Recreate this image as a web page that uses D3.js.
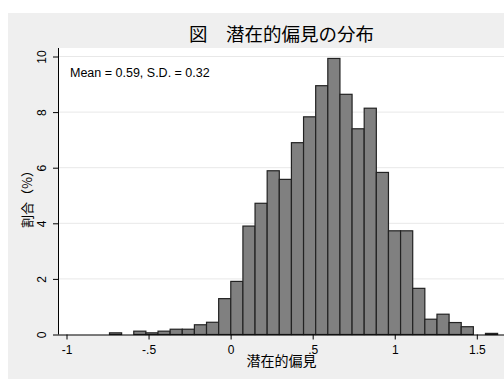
<!DOCTYPE html>
<html>
<head>
<meta charset="utf-8">
<script src="https://cdn.jsdelivr.net/npm/d3@7"></script>
<style>
  body { margin: 0; background: #fff; }
  svg { display: block; }
</style>
</head>
<body>
<svg id="chart"></svg>
<script>
// histogram data (percent per bin)
const binStart = -0.738;
const binWidth = 0.0739;
const pct = [0.06, 0, 0.12, 0.06, 0.12, 0.19, 0.19, 0.35, 0.44, 1.29,
  1.91, 3.90, 4.72, 5.89, 5.58, 6.90, 7.83, 8.95, 9.93, 8.64,
  7.40, 8.14, 5.83, 3.73, 3.73, 1.66, 0.55, 0.73, 0.43, 0.28,
  0, 0.04];
const xTicks = [-1, -0.5, 0, 0.5, 1, 1.5];
const xTickLabels = ["-1", "-.5", "0", ".5", "1", "1.5"];
const yTicks = [0, 2, 4, 6, 8, 10];
const titleText = "図　潜在的偏見の分布";
const xTitle = "潜在的偏見";
const yTitle = "割合（%）";
const note = "Mean = 0.59, S.D. = 0.32";

const W = 504, H = 379;
const plot = { left: 58, right: 505, top: 48, bottom: 334.5 };
const numFont = "'Liberation Sans', Arial, sans-serif";
const cjkFont = "'Noto Sans CJK JP', sans-serif";

const svg = d3.select('#chart').attr('width', W).attr('height', H);

// graph region
svg.append('rect').attr('x', 8).attr('y', 13).attr('width', W - 8).attr('height', H - 13)
  .attr('fill', '#efefef');
svg.append('rect').attr('x', plot.left).attr('y', plot.top)
  .attr('width', plot.right - plot.left).attr('height', plot.bottom - plot.top)
  .attr('fill', '#fff');

const x = d3.scaleLinear().domain([-1, 1.5]).range([66.5, 476.8]);
const y = d3.scaleLinear().domain([0, 10]).range([334.5, 56.5]);

// gridlines
svg.append('g').selectAll('line')
  .data(yTicks.filter(d => d > 0))
  .join('line')
  .attr('x1', plot.left).attr('x2', plot.right)
  .attr('y1', d => y(d)).attr('y2', d => y(d))
  .attr('stroke', '#e8e8e8').attr('stroke-width', 1);

// bars
svg.append('g').selectAll('rect')
  .data(pct.map((v, i) => ({ v, x0: binStart + i * binWidth, x1: binStart + (i + 1) * binWidth })))
  .join('rect')
  .filter(d => d.v > 0)
  .attr('x', d => x(d.x0))
  .attr('width', d => x(d.x1) - x(d.x0))
  .attr('y', d => y(d.v))
  .attr('height', d => y(0) - y(d.v))
  .attr('fill', '#808080')
  .attr('stroke', '#222')
  .attr('stroke-width', 1.2);

// x axis
const xAxis = svg.append('g')
  .attr('transform', `translate(0,${plot.bottom})`)
  .call(d3.axisBottom(x).tickValues(xTicks).tickSize(5).tickSizeOuter(0)
    .tickFormat((d, i) => xTickLabels[i]));
xAxis.select('.domain').attr('d', `M${plot.left},0.5H${plot.right}`).attr('stroke', '#000');
xAxis.selectAll('.tick line').attr('stroke', '#000');
xAxis.selectAll('.tick text').attr('y', 19).attr('dy', 0)
  .attr('font-family', numFont).attr('font-size', 12).attr('fill', '#000');

// y axis
const yAxis = svg.append('g')
  .attr('transform', `translate(${plot.left},0)`)
  .call(d3.axisLeft(y).tickValues(yTicks).tickSize(5).tickSizeOuter(0));
yAxis.select('.domain').attr('d', `M0.5,${plot.top}V${plot.bottom}`).attr('stroke', '#000');
yAxis.selectAll('.tick line').attr('stroke', '#000');
yAxis.selectAll('.tick text')
  .attr('x', null).attr('dy', 0)
  .attr('transform', 'translate(-12,0) rotate(-90)')
  .attr('text-anchor', 'middle')
  .attr('font-family', numFont).attr('font-size', 12).attr('fill', '#000');

// titles
svg.append('text').attr('x', 281.5).attr('y', 41)
  .attr('text-anchor', 'middle').attr('font-family', cjkFont).attr('font-size', 18.5)
  .attr('fill', '#000').text(titleText);

svg.append('text').attr('x', 281.5).attr('y', 366)
  .attr('text-anchor', 'middle').attr('font-family', cjkFont).attr('font-size', 14)
  .attr('fill', '#000').text(xTitle);

svg.append('text')
  .attr('transform', 'translate(32,196) rotate(-90)')
  .attr('text-anchor', 'middle').attr('font-family', cjkFont).attr('font-size', 13)
  .attr('fill', '#000').text(yTitle);

// note
svg.append('text').attr('x', 70).attr('y', 77)
  .attr('font-family', numFont).attr('font-size', 12.5)
  .attr('fill', '#000').text(note);
</script>
</body>
</html>
